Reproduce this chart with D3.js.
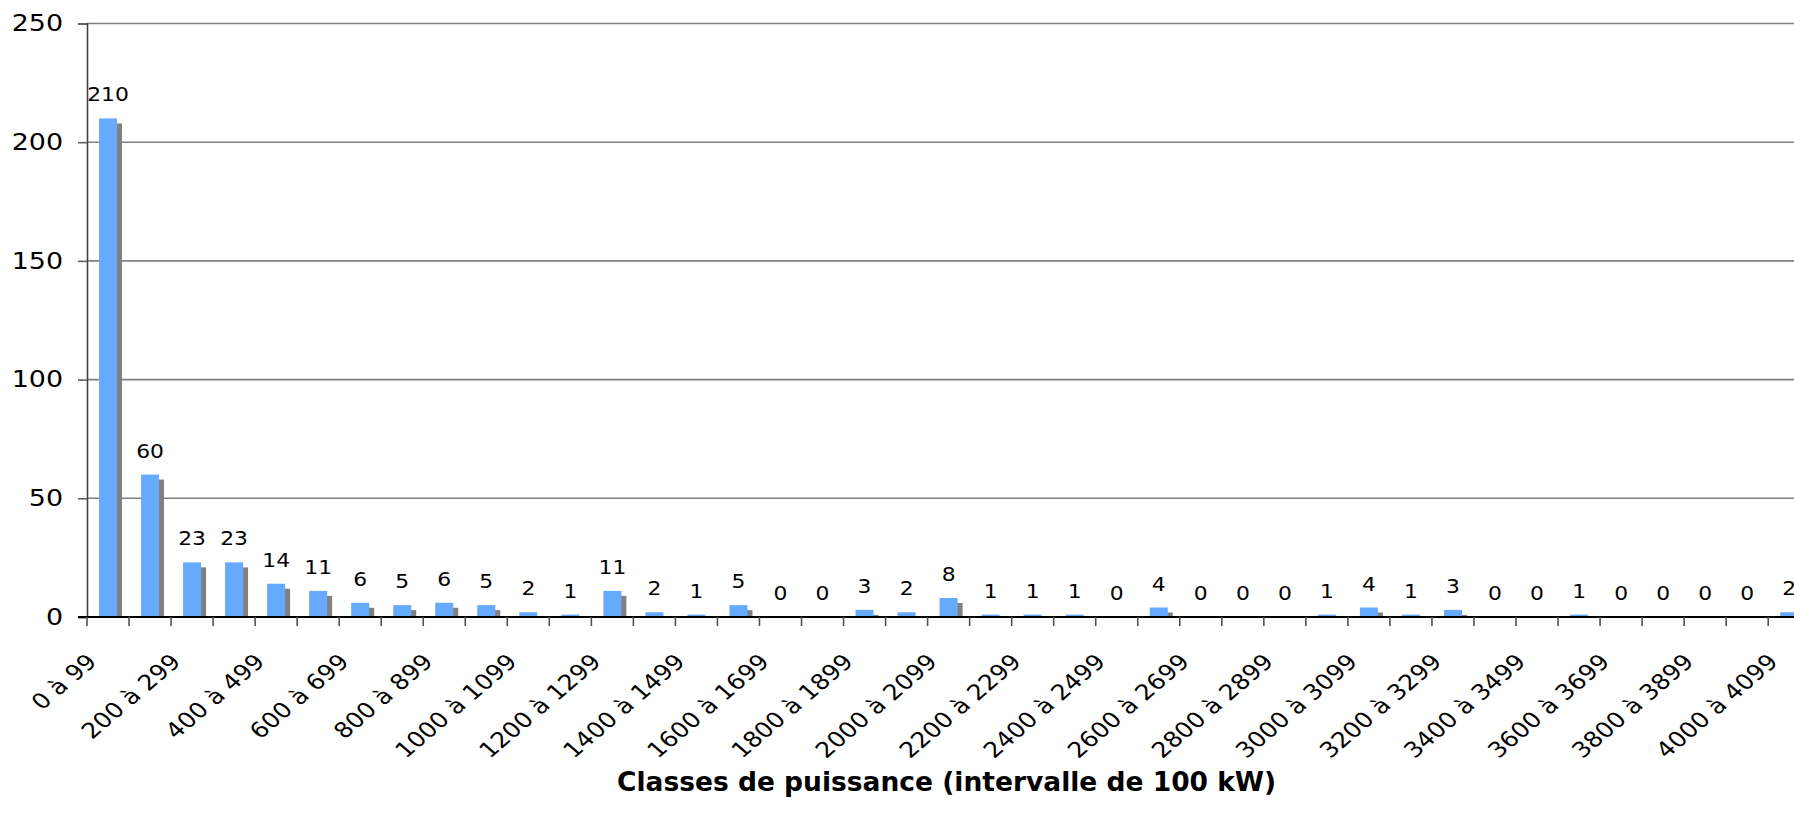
<!DOCTYPE html>
<html>
<head>
<meta charset="utf-8">
<script src="https://cdn.jsdelivr.net/npm/d3@7"></script>
<style>
  html, body { margin: 0; padding: 0; background: #fff; overflow: hidden; }
  text { font-family: "DejaVu Sans", Verdana, sans-serif; }
</style>
</head>
<body>
<script>
'use strict';

// power classes (kW), one per bar
const categories = [
  "0 à 99", "100 à 199", "200 à 299", "300 à 399", "400 à 499",
  "500 à 599", "600 à 699", "700 à 799", "800 à 899", "900 à 999",
  "1000 à 1099", "1100 à 1199", "1200 à 1299", "1300 à 1399", "1400 à 1499",
  "1500 à 1599", "1600 à 1699", "1700 à 1799", "1800 à 1899", "1900 à 1999",
  "2000 à 2099", "2100 à 2199", "2200 à 2299", "2300 à 2399", "2400 à 2499",
  "2500 à 2599", "2600 à 2699", "2700 à 2799", "2800 à 2899", "2900 à 2999",
  "3000 à 3099", "3100 à 3199", "3200 à 3299", "3300 à 3399", "3400 à 3499",
  "3500 à 3599", "3600 à 3699", "3700 à 3799", "3800 à 3899", "3900 à 3999",
  "4000 à 4099"
];

// number of installations per class
const counts = [
  210, 60, 23, 23, 14, 11, 6, 5, 6, 5,
  2, 1, 11, 2, 1, 5, 0, 0, 3, 2,
  8, 1, 1, 1, 0, 4, 0, 0, 0, 1,
  4, 1, 3, 0, 0, 1, 0, 0, 0, 0,
  2
];

// only every other class gets a label on the axis
const tickLabels = [
  "0 à 99", "200 à 299", "400 à 499", "600 à 699", "800 à 899",
  "1000 à 1099", "1200 à 1299", "1400 à 1499", "1600 à 1699", "1800 à 1899",
  "2000 à 2099", "2200 à 2299", "2400 à 2499", "2600 à 2699", "2800 à 2899",
  "3000 à 3099", "3200 à 3299", "3400 à 3499", "3600 à 3699", "3800 à 3899",
  "4000 à 4099"
];

const yTicks = [0, 50, 100, 150, 200, 250];
const xTitle = "Classes de puissance (intervalle de 100 kW)";

(function() {

  const W = 1794, H = 828;
  const plotLeft = 87, step = 42.03;
  const plotTop = 23.5, plotBottom = 617;
  const plotRight = plotLeft + step * categories.length; // runs past the edge
  const stretch = 1.17; // the original's text is drawn a little wide

  const svg = d3.select('body').append('svg')
    .attr('width', W)
    .attr('height', H);

  // band scale for the bars
  const x = d3.scaleBand()
    .domain(categories)
    .range([plotLeft, plotRight])
    .paddingInner(0.572)
    .paddingOuter(0.286);

  // same bands without padding, for the boundary ticks
  const xOuter = d3.scaleBand()
    .domain(categories)
    .range([plotLeft, plotRight])
    .padding(0);

  const y = d3.scaleLinear()
    .domain([0, 250])
    .range([plotBottom, plotTop]);

  // horizontal gridlines
  svg.append('g')
    .selectAll('line')
    .data(yTicks.filter(d => d > 0))
    .enter()
    .append('line')
      .attr('x1', plotLeft)
      .attr('x2', W)
      .attr('y1', d => y(d))
      .attr('y2', d => y(d))
      .attr('stroke', '#808080')
      .attr('stroke-width', 1.6);

  // y axis
  const yAxis = d3.axisLeft(y)
    .tickValues(yTicks)
    .tickSize(9)
    .tickPadding(15);

  const gy = svg.append('g')
    .attr('transform', 'translate(' + plotLeft + ',0)')
    .call(yAxis);
  gy.select('.domain').attr('stroke', '#404040').attr('stroke-width', 1.6);
  gy.selectAll('.tick line').attr('stroke', '#606060').attr('stroke-width', 1.6);
  gy.selectAll('.tick text')
    .attr('x', 0)
    .attr('transform', 'translate(-24,0)scale(' + stretch + ',1)')
    .style('font-size', '23px')
    .style('font-family', '"DejaVu Sans", Verdana, sans-serif')
    .attr('fill', '#000');

  // shadow bars (grey, offset right and down)
  const off = 5;
  svg.append('g')
    .selectAll('rect')
    .data(counts)
    .enter()
    .append('rect')
      .attr('x', (d, i) => x(categories[i]) + off)
      .attr('y', d => Math.min(y(d) + off, plotBottom))
      .attr('width', x.bandwidth())
      .attr('height', d => Math.max(0, plotBottom - y(d) - off))
      .attr('fill', '#808080');

  // main bars
  svg.append('g')
    .selectAll('rect')
    .data(counts)
    .enter()
    .append('rect')
      .attr('x', (d, i) => x(categories[i]))
      .attr('y', d => y(d))
      .attr('width', x.bandwidth())
      .attr('height', d => plotBottom - y(d))
      .attr('fill', '#66aaff');

  // value labels above each bar
  svg.append('g')
    .selectAll('text')
    .data(counts)
    .enter()
    .append('text')
      .attr('transform', (d, i) => 'translate(' + (x(categories[i]) + x.bandwidth() / 2) + ',' + (y(d) - 17) + ')scale(1.12,1)')
      .attr('text-anchor', 'middle')
      .style('font-size', '19.5px')
      .attr('fill', '#000')
      .text(d => d);

  // x axis line
  svg.append('line')
    .attr('x1', plotLeft - 9)
    .attr('x2', W)
    .attr('y1', plotBottom)
    .attr('y2', plotBottom)
    .attr('stroke', '#000')
    .attr('stroke-width', 1.8);

  // tick marks on the class boundaries
  svg.append('g')
    .selectAll('line')
    .data(categories)
    .enter()
    .append('line')
      .attr('x1', d => xOuter(d))
      .attr('x2', d => xOuter(d))
      .attr('y1', plotBottom)
      .attr('y2', plotBottom + 9)
      .attr('stroke', '#505050')
      .attr('stroke-width', 1.6);

  // rotated class labels
  svg.append('g')
    .selectAll('text')
    .data(tickLabels)
    .enter()
    .append('text')
      .attr('transform', d => 'translate(' + (x(d) + x.bandwidth() / 2 - 10) + ',663)scale(' + stretch + ',1)rotate(-45)')
      .attr('text-anchor', 'end')
      .style('font-size', '21.5px')
      .attr('fill', '#000')
      .text(d => d);

  // axis title, centred on the full plot width
  svg.append('text')
    .attr('x', (plotLeft + plotRight) / 2 - 2)
    .attr('y', 791)
    .attr('text-anchor', 'middle')
    .style('font-weight', 'bold')
    .style('font-size', '26.5px')
    .attr('fill', '#000')
    .text(xTitle);

})();
</script>
</body>
</html>
